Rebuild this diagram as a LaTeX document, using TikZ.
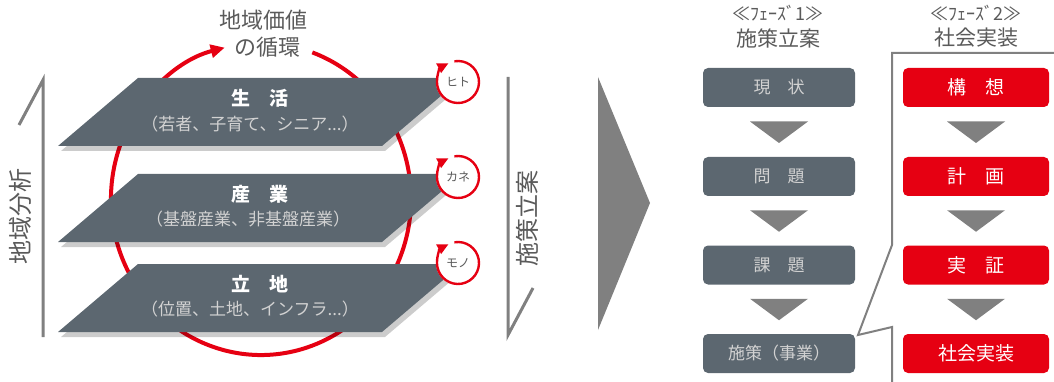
\documentclass[tikz,border=0pt]{standalone}
\usepackage{fontspec}
\setmainfont{Noto Sans CJK JP}
\usetikzlibrary{arrows.meta,calc,shadows}
\definecolor{slate}{HTML}{5C6770}
\definecolor{jred}{HTML}{E60012}
\definecolor{tgray}{HTML}{5A5A5A}
\definecolor{mgray}{HTML}{808080}
\definecolor{lgray}{HTML}{D2D2D2}
\begin{document}
\begin{tikzpicture}[x=1pt,y=-1pt,
  para/.style={fill=slate,drop shadow={shadow xshift=3pt,shadow yshift=-5pt,opacity=0.2,fill=black}},
  ptitle/.style={text=white,font=\fontsize{19}{19}\selectfont\bfseries,inner sep=0pt},
  psub/.style={text=lgray,font=\fontsize{17}{17}\selectfont,inner sep=0pt},
  ring/.style={draw=jred,line width=4pt,-{Triangle[length=14pt,width=13pt]}},
  sring/.style={draw=jred,line width=2.4pt,-{Triangle[length=11pt,width=10pt]}},
  sdisk/.style={circle,fill=white,minimum size=44pt,inner sep=0pt,text=tgray,font=\fontsize{12}{12}\selectfont},
  bracket/.style={draw=mgray,line width=3pt},
  vlabel/.style={text=tgray,font=\fontsize{24}{24}\selectfont,rotate=90,inner sep=0pt},
  head/.style={text=tgray,font=\fontsize{21}{21}\selectfont,inner sep=0pt},
  gbox/.style={fill=slate,rounded corners=5pt,minimum width=152pt,minimum height=39pt,inner sep=0pt,text=lgray,font=\fontsize{17}{17}\selectfont},
  rbox/.style={fill=jred,rounded corners=5pt,minimum width=146pt,minimum height=39pt,inner sep=0pt,text=white,font=\fontsize{19}{19}\selectfont},
  tri/.style={fill=mgray},
]
\useasboundingbox (0,0) rectangle (1054,382);

% ---------- left part ----------
\node[head,font=\fontsize{22}{22}\selectfont] (lab1) at (263,20) {地域価値};
\node[head,font=\fontsize{22}{22}\selectfont] (lab2) at (267,47) {の循環};

\draw[ring] (261,199) ++(-70:150 and 156) arc[start angle=-70,end angle=256,x radius=150,y radius=156];

\path[para] (58,146) -- (138,78) -- (462,78) -- (382,146) -- cycle;
\path[para] (58,242) -- (138,174) -- (462,174) -- (382,242) -- cycle;
\path[para] (58,332) -- (138,264) -- (462,264) -- (382,332) -- cycle;

\node[ptitle] (t1) at (260,98) {生　活};
\node[psub] (s1) at (250,124) {（若者、子育て、シニア...）};
\node[ptitle] (t2) at (260,194) {産　業};
\node[psub] (s2) at (248,219) {（基盤産業、非基盤産業）};
\node[ptitle] (t3) at (260,284) {立　地};
\node[psub] (s3) at (250,309) {（位置、土地、インフラ...）};

\node[sdisk] (hito) at (458,82) {ヒト};
\node[sdisk] (kane) at (458,177) {カネ};
\node[sdisk] (mono) at (458,263) {モノ};
\foreach \c in {hito,kane,mono}
  \draw[sring] (\c.center) ++(-100:21) arc[start angle=-100,end angle=243,radius=21];

\draw[bracket] (19,125) -- (43,80) -- (43,337);
\draw[bracket] (508,77) -- (508,335) -- (533,288);
\node[vlabel] (bunseki) at (20,216) {地域分析};
\node[vlabel] (ritsuan) at (527,218) {施策立案};

% ---------- big arrow ----------
\fill[mgray] (598,77) -- (650,203) -- (598,330) -- cycle;

% ---------- phases ----------
\node[head,font=\fontsize{18}{18}\selectfont] (ph1) at (778,13) {≪ﾌｪｰｽﾞ1≫};
\node[head] (ph1b) at (778,38) {施策立案};
\node[head,font=\fontsize{18}{18}\selectfont] (ph2) at (976,13) {≪ﾌｪｰｽﾞ2≫};
\node[head] (ph2b) at (976,38) {社会実装};

% callout
\coordinate (ctip) at (858,335);
\draw[draw=mgray,line width=2pt,fill=white] (1060,53) -- (892,53) -- (892,245) -- (ctip) -- (892,327) -- (892,386) -- (1060,386);

\node[gbox] (g1) at (779,87.5) {現　状};
\node[gbox] (g2) at (779,176.5) {問　題};
\node[gbox] (g3) at (779,265) {課　題};
\node[gbox] (g4) at (779,353.5) {施策（事業）};

\node[rbox] (r1) at (976,87.5) {構　想};
\node[rbox] (r2) at (976,176.5) {計　画};
\node[rbox] (r3) at (976,265) {実　証};
\node[rbox] (r4) at (976,353.5) {社会実装};

\foreach \a/\b in {g1/g2,g2/g3,g3/g4,r1/r2,r2/r3,r3/r4}
  \fill[tri] ($(\a.south)!0.5!(\b.north)$) +(-29,-10.5) -- +(29,-10.5) -- +(0,11) -- cycle;
\end{tikzpicture}
\end{document}
